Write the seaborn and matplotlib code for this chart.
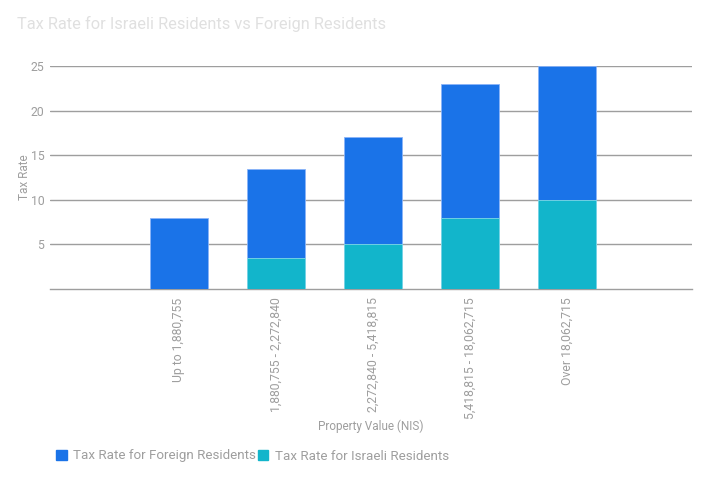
import matplotlib
matplotlib.use("Agg")
import matplotlib.pyplot as plt
import seaborn as sns
import pandas as pd
from matplotlib.patches import Patch

categories = [
    "Up to 1,880,755",
    "1,880,755 - 2,272,840",
    "2,272,840 - 5,418,815",
    "5,418,815 - 18,062,715",
    "Over 18,062,715",
]
foreign_rate = [8, 13.5, 17, 23, 25]
israeli_rate = [0, 3.5, 5, 8, 10]
y_ticks = [5, 10, 15, 20, 25]

blue = "#1a73e8"
teal = "#12b5cb"
grey_text = "#9e9e9e"
grid_col = "#9e9e9e"

sns.set_style("white")
plt.rcParams["font.family"] = ["Roboto", "DejaVu Sans"]

df = pd.DataFrame({"cat": categories, "foreign": foreign_rate, "israeli": israeli_rate})

fig = plt.figure(figsize=(7.08, 4.8), dpi=100)
ax = fig.add_axes([50 / 708, 1 - 289 / 480, 642 / 708, 223 / 480])

sns.barplot(data=df, x="cat", y="foreign", color=blue, width=0.6, saturation=1,
            edgecolor="#8ab4f8", linewidth=0.6, ax=ax, zorder=3)
sns.barplot(data=df, x="cat", y="israeli", color=teal, width=0.6, saturation=1,
            edgecolor="#7fd9e6", linewidth=0.6, ax=ax, zorder=4)

ax.set_xlim(-1.33, 5.29)
ax.set_ylim(0, 25)
ax.set_yticks(y_ticks)
ax.yaxis.grid(True, color=grid_col, linewidth=1, zorder=0)
ax.set_axisbelow(True)
for s in ["top", "right", "left"]:
    ax.spines[s].set_visible(False)
ax.spines["bottom"].set_color(grid_col)
ax.spines["bottom"].set_linewidth(1)

ax.tick_params(axis="y", length=0, pad=4, labelsize=8.8, labelcolor=grey_text)
ax.tick_params(axis="x", length=0, pad=6, labelsize=8.8, labelcolor=grey_text)
plt.setp(ax.get_xticklabels(), rotation=90, va="top", ha="center")

ax.set_xlabel("Property Value (NIS)", color=grey_text, fontsize=8.5, labelpad=0)
ax.set_ylabel("Tax Rate", color=grey_text, fontsize=8.5, labelpad=0)

fig.text(17 / 708, 1 - 24 / 480, "Tax Rate for Israeli Residents vs Foreign Residents",
         color="#e0e0e0", fontsize=11.8, va="center", ha="left")

handles = [Patch(color=blue, label="Tax Rate for Foreign Residents"),
           Patch(color=teal, label="Tax Rate for Israeli Residents")]
fig.legend(handles=handles, loc="center left", bbox_to_anchor=(44 / 708, 1 - 456 / 480),
           ncol=2, frameon=False, fontsize=9.6, labelcolor=grey_text,
           handlelength=0.8, handleheight=0.8, handletextpad=0.5, columnspacing=0.1)

fig.savefig("out.png", dpi=100)
